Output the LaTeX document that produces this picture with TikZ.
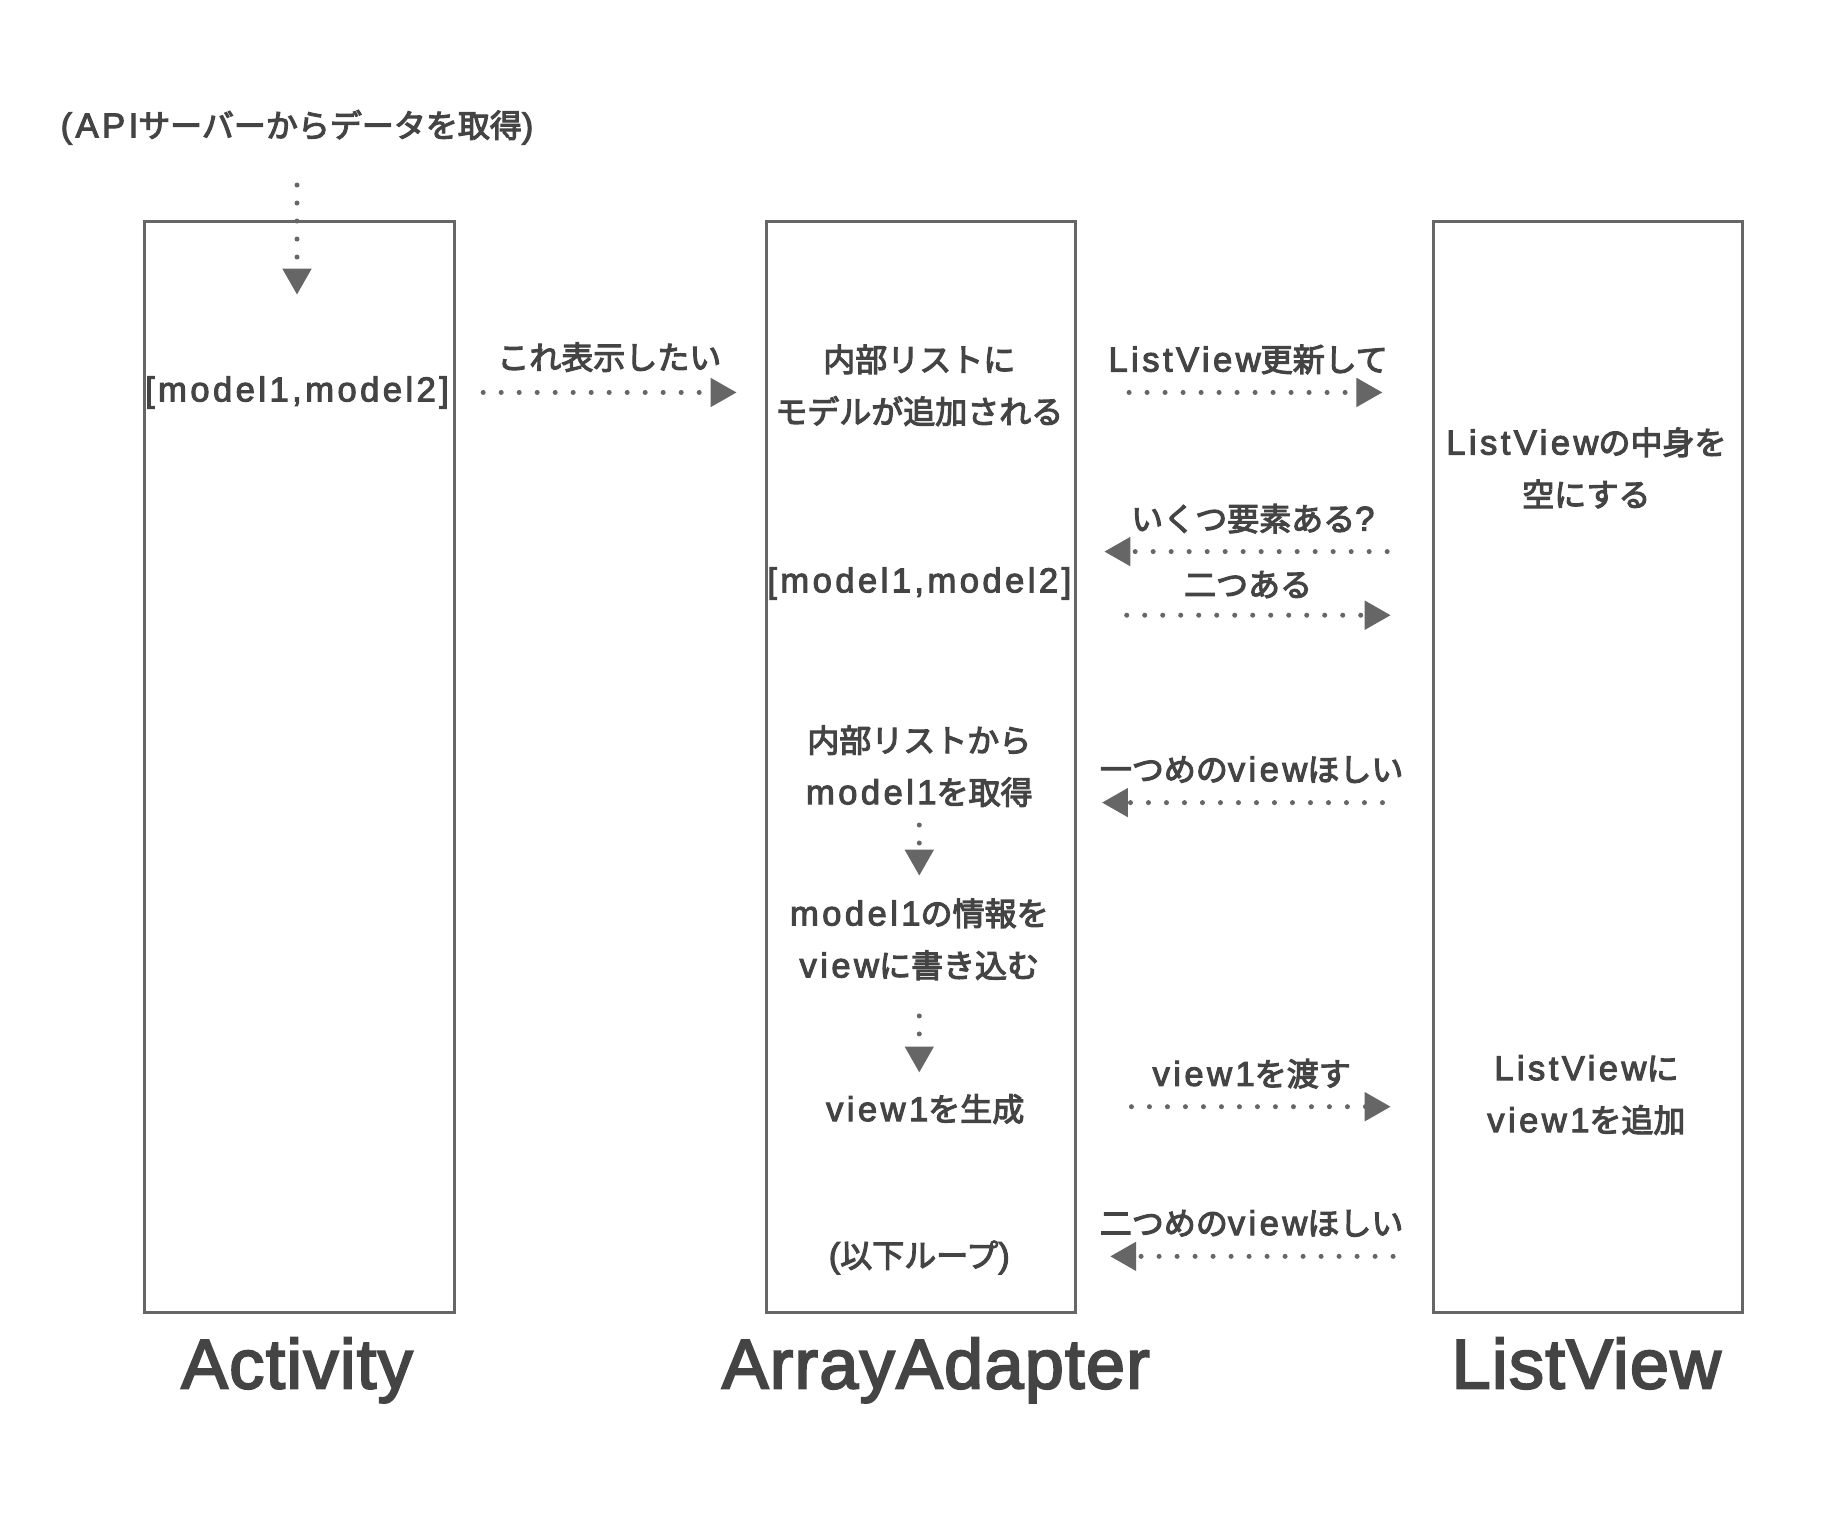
\documentclass[tikz,border=0pt]{standalone}
\usepackage{fontspec}
\setmainfont{Noto Sans CJK JP}[FakeBold=3.5]
\newfontfamily\lat{Liberation Sans}[Scale=1.08,FakeBold=3,LetterSpace=10]
\newfontfamily\tlat{Liberation Sans}[FakeBold=3,LetterSpace=2]
\usetikzlibrary{arrows.meta}
\definecolor{ink}{HTML}{444444}
\definecolor{edge}{HTML}{666666}
\newcommand{\la}[1]{{\lat #1}}
\begin{document}
\begin{tikzpicture}[x=1.1786pt,y=-1.1786pt,
  lane/.style={draw=edge,line width=3pt},
  txt/.style={text=ink,font=\fontsize{32}{52}\selectfont,inner sep=0pt,align=center},
  title/.style={text=ink,font=\fontsize{70}{80}\selectfont\tlat,inner sep=0pt,anchor=base},
  flow/.style={draw=edge,line width=5pt,line cap=round,dash pattern=on 0pt off 18pt,
    -{Triangle[length=26pt,width=28pt,line cap=butt,line join=miter]}}]
\useasboundingbox[fill=white] (0,0) rectangle (1568,1288);
% lanes
\node[lane,minimum width=263*1.1786pt,minimum height=925*1.1786pt,inner sep=0pt,anchor=north west] (act) at (121,187) {};
\node[lane,minimum width=262*1.1786pt,minimum height=925*1.1786pt,inner sep=0pt,anchor=north west] (ada) at (649,187) {};
\node[lane,minimum width=262*1.1786pt,minimum height=925*1.1786pt,inner sep=0pt,anchor=north west] (lv) at (1215,187) {};
% titles
\node[title] (tact) at (252,1178) {Activity};
\node[title] (tada) at (794,1178) {ArrayAdapter};
\node[title] (tlv) at (1346,1178) {ListView};
% texts
\node[txt] (api) at (252,108) {\la{(API}サーバーからデータを取得\la{)}};
\node[txt] (m1) at (252,333) {\la{[model1,model2]}};
\node[txt] (l1) at (517,303) {これ表示したい};
\node[txt] (a1) at (780,327) {内部リストに\\モデルが追加される};
\node[txt] (l2) at (1059,305) {\la{ListView}更新して};
\node[txt] (v1) at (1346,397) {\la{ListView}の中身を\\空にする};
\node[txt] (l3) at (1063,440) {いくつ要素ある\la{?}};
\node[txt] (a2) at (780,495) {\la{[model1,model2]}};
\node[txt] (l4) at (1059,496) {二つある};
\node[txt] (a3) at (780,650) {内部リストから\\\la{model1}を取得};
\node[txt] (l5) at (1062,653) {一つめの\la{view}ほしい};
\node[txt] (a4) at (780,797) {\la{model1}の情報を\\\la{view}に書き込む};
\node[txt] (a5) at (785,941) {\la{view1}を生成};
\node[txt] (l6) at (1062,911) {\la{view1}を渡す};
\node[txt] (v2) at (1346,929) {\la{ListView}に\\\la{view1}を追加};
\node[txt] (l7) at (1062,1038) {二つめの\la{view}ほしい};
\node[txt] (a6) at (780,1067) {\la{(}以下ループ\la{)}};
% arrow endpoints
\coordinate (p0s) at (252,157); \coordinate (p0e) at (252,250);
\coordinate (p1s) at (410,333); \coordinate (p1e) at (625,333);
\coordinate (p2s) at (958,333); \coordinate (p2e) at (1173,333);
\coordinate (p3s) at (1177,468); \coordinate (p3e) at (937,468);
\coordinate (p4s) at (956,522); \coordinate (p4e) at (1180,522);
\coordinate (p5s) at (1173,681); \coordinate (p5e) at (935,681);
\coordinate (p6s) at (780,700); \coordinate (p6e) at (780,743);
\coordinate (p7s) at (780,862); \coordinate (p7e) at (780,910);
\coordinate (p8s) at (960,939); \coordinate (p8e) at (1180,939);
\coordinate (p9s) at (1182,1066); \coordinate (p9e) at (942,1066);
\foreach \i in {0,...,9} {\draw[flow] (p\i s) -- (p\i e);}
\end{tikzpicture}
\end{document}
